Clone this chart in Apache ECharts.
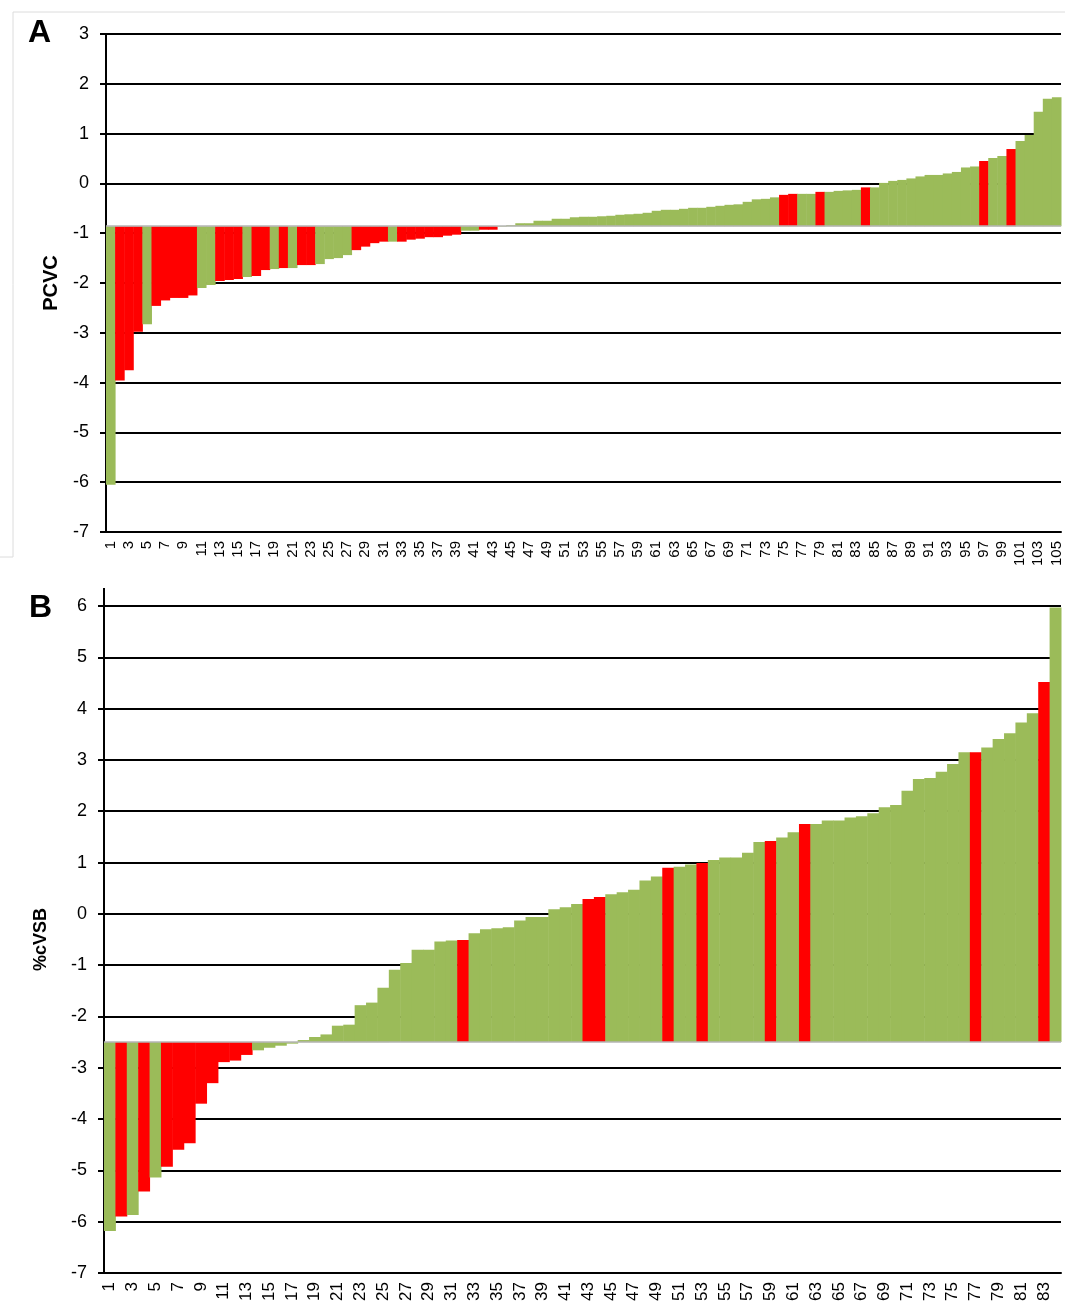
<!DOCTYPE html>
<html>
<head>
<meta charset="utf-8">
<script src="https://cdn.jsdelivr.net/npm/echarts@6/dist/echarts.min.js"></script>
<style>
html,body{margin:0;padding:0;background:#fff;}
#chart{width:1065px;height:1314px;}
</style>
</head>
<body>
<div id="chart"></div>
<script>
// ---------- DATA ----------
const pcvcBaseline = -0.86;
const pcvcValues = [
  -6.05,-3.96,-3.75,-2.98,-2.83,-2.46,-2.35,-2.30,-2.30,-2.25,
  -2.10,-2.04,-1.96,-1.94,-1.92,-1.88,-1.86,-1.74,-1.72,-1.70,
  -1.70,-1.64,-1.64,-1.62,-1.52,-1.50,-1.44,-1.34,-1.27,-1.20,
  -1.17,-1.17,-1.17,-1.13,-1.11,-1.08,-1.08,-1.05,-1.03,-0.95,
  -0.95,-0.93,-0.93,-0.87,-0.84,-0.80,-0.80,-0.75,-0.75,-0.71,
  -0.71,-0.68,-0.67,-0.67,-0.66,-0.65,-0.63,-0.62,-0.61,-0.59,
  -0.55,-0.53,-0.53,-0.51,-0.49,-0.49,-0.47,-0.45,-0.43,-0.42,
  -0.37,-0.32,-0.31,-0.28,-0.23,-0.21,-0.21,-0.21,-0.17,-0.17,
  -0.15,-0.14,-0.13,-0.08,-0.08,0.01,0.05,0.07,0.10,0.14,
  0.17,0.17,0.20,0.23,0.32,0.34,0.45,0.51,0.55,0.69,
  0.85,0.97,1.44,1.70,1.73
];
const pcvcRed = [2,3,4,6,7,8,9,10,13,14,15,17,18,20,22,23,28,29,30,31,33,34,35,36,37,38,39,42,43,75,76,79,84,97,100];

const cvsbBaseline = -2.5;
const cvsbValues = [
  -6.18,-5.90,-5.87,-5.41,-5.14,-4.93,-4.60,-4.47,-3.70,-3.30,
  -2.89,-2.86,-2.75,-2.66,-2.61,-2.57,-2.53,-2.46,-2.40,-2.35,
  -2.18,-2.16,-1.78,-1.73,-1.44,-1.09,-0.96,-0.70,-0.70,-0.54,
  -0.52,-0.51,-0.38,-0.30,-0.28,-0.26,-0.13,-0.06,-0.06,0.09,
  0.13,0.19,0.29,0.33,0.38,0.42,0.47,0.65,0.73,0.90,
  0.92,0.96,0.99,1.05,1.10,1.10,1.19,1.40,1.42,1.49,
  1.59,1.75,1.75,1.82,1.82,1.88,1.90,1.96,2.08,2.12,
  2.40,2.63,2.65,2.77,2.92,3.15,3.15,3.24,3.41,3.52,
  3.73,3.91,4.52,5.97
];
const cvsbRed = [2,4,6,7,8,9,10,11,12,13,32,43,44,50,53,59,62,77,83];

const pcvcCategories = pcvcValues.map((_, i) => String(i + 1));
const cvsbCategories = cvsbValues.map((_, i) => String(i + 1));

// ---------- STYLE ----------
const GREEN = '#9BBB59';
const RED = '#FF0000';
const FONT = 'Liberation Sans, Arial, sans-serif';

function buildData(values, redList) {
  return values.map((v, i) => [i, v, redList.indexOf(i + 1) >= 0 ? 1 : 0]);
}

function makeRender(baseline) {
  return function (params, api) {
    const x = api.value(0);
    const v = api.value(1);
    const top = api.coord([x, v]);
    const base = api.coord([x, baseline]);
    const w = api.size([1, 0])[0];
    const y0 = Math.min(top[1], base[1]);
    const h = Math.abs(top[1] - base[1]);
    return {
      type: 'rect',
      shape: { x: top[0] - w / 2, y: y0, width: w + 0.5, height: h },
      style: { fill: api.value(2) ? RED : GREEN }
    };
  };
}

function xAxisCfg(gridIndex, cats, fontSize) {
  return {
    type: 'category', gridIndex: gridIndex, data: cats,
    boundaryGap: true,
    axisLine: { onZero: false, lineStyle: { color: '#000', width: 2 } },
    axisTick: { show: false },
    splitLine: { show: false },
    axisLabel: { interval: 1, rotate: 90, fontSize: fontSize, color: '#000', margin: 9, fontFamily: FONT }
  };
}

function yAxisCfg(gridIndex, min, max, name, nameGap, nameSize) {
  return {
    type: 'value', gridIndex: gridIndex, min: min, max: max, interval: 1,
    axisLine: { show: true, onZero: false, lineStyle: { color: '#000', width: 2 } },
    axisTick: { show: true, length: 6, lineStyle: { color: '#000', width: 2 } },
    splitLine: { show: true, lineStyle: { color: '#000', width: 2 } },
    axisLabel: { fontSize: 18, color: '#000', margin: 17, fontFamily: FONT },
    name: name, nameLocation: 'middle', nameGap: nameGap,
    nameTextStyle: { fontSize: nameSize, fontWeight: 'bold', color: '#000', fontFamily: FONT }
  };
}

const chart = echarts.init(document.getElementById('chart'), null, { renderer: 'canvas' });

chart.setOption({
  backgroundColor: '#fff',
  animation: false,
  title: [
    { text: 'A', left: 28, top: 17, padding: 0, textStyle: { fontSize: 32, fontWeight: 'bold', color: '#000', fontFamily: FONT } },
    { text: 'B', left: 29, top: 592, padding: 0, textStyle: { fontSize: 32, fontWeight: 'bold', color: '#000', fontFamily: FONT } }
  ],
  grid: [
    { left: 106, top: 34, width: 955, height: 498 },
    { left: 104, top: 606, width: 957, height: 667 }
  ],
  xAxis: [
    xAxisCfg(0, pcvcCategories, 15),
    xAxisCfg(1, cvsbCategories, 17)
  ],
  yAxis: [
    yAxisCfg(0, -7, 3, 'PCVC', 45, 20),
    yAxisCfg(1, -7, 6, '%cVSB', 54, 18)
  ],
  series: [
    {
      type: 'custom', xAxisIndex: 0, yAxisIndex: 0,
      renderItem: makeRender(pcvcBaseline),
      data: buildData(pcvcValues, pcvcRed),
      encode: { x: 0, y: 1 }, silent: true, z: 3,
      markLine: {
        silent: true, symbol: 'none', label: { show: false },
        lineStyle: { color: '#b5b5b5', width: 1.5, type: 'solid' },
        data: [{ yAxis: pcvcBaseline }]
      }
    },
    {
      type: 'custom', xAxisIndex: 1, yAxisIndex: 1,
      renderItem: makeRender(cvsbBaseline),
      data: buildData(cvsbValues, cvsbRed),
      encode: { x: 0, y: 1 }, silent: true, z: 3,
      markLine: {
        silent: true, symbol: 'none', label: { show: false },
        lineStyle: { color: '#b5b5b5', width: 1.5, type: 'solid' },
        data: [{ yAxis: cvsbBaseline }]
      }
    }
  ],
  graphic: [
    { type: 'line', shape: { x1: 13, y1: 12, x2: 1065, y2: 12 }, style: { stroke: '#dcdcdc', lineWidth: 1 }, silent: true },
    { type: 'line', shape: { x1: 13, y1: 12, x2: 13, y2: 557 }, style: { stroke: '#dcdcdc', lineWidth: 1 }, silent: true },
    { type: 'line', shape: { x1: 0, y1: 557, x2: 13, y2: 557 }, style: { stroke: '#dcdcdc', lineWidth: 1 }, silent: true },
    { type: 'line', shape: { x1: 104, y1: 588, x2: 104, y2: 607 }, style: { stroke: '#000', lineWidth: 2 }, silent: true }
  ]
});
</script>
</body>
</html>
